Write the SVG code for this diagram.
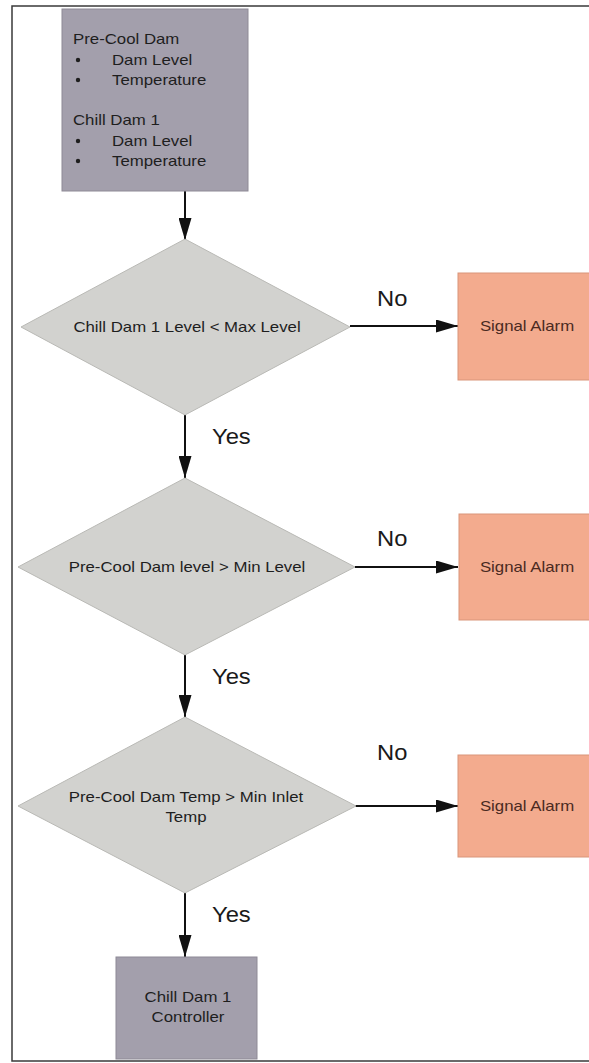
<svg xmlns="http://www.w3.org/2000/svg" width="589" height="1063" viewBox="0 0 589 1063">
  <style>
    .frame { fill: none; stroke: #3a3a3a; stroke-width: 1.5; }
    .box { fill: #a39fac; stroke: #8e8a96; stroke-width: 1; }
    .dec { fill: #d2d2cf; stroke: #b9b9b5; stroke-width: 1; }
    .alarm { fill: #f3ab8e; stroke: #d9957a; stroke-width: 1; }
    .t { font-family: "Liberation Sans", Arial, sans-serif; font-size: 14px; fill: #1e1e1e; }
    .ta { font-family: "Liberation Sans", Arial, sans-serif; font-size: 14px; fill: #4a2a22; }
    .lbl { font-family: "Liberation Sans", Arial, sans-serif; font-size: 22px; fill: #1a1a1a; }
    .mid { text-anchor: middle; }
    .wire { stroke: #111; stroke-width: 2; fill: none; marker-end: url(#head); }
  </style>
  <defs>
    <marker id="head" markerWidth="22" markerHeight="13" refX="22" refY="6.5" orient="auto" markerUnits="userSpaceOnUse">
      <path d="M0,0 L22,6.5 L0,13 Z" fill="#111"/>
    </marker>
  </defs>

  <rect width="589" height="1063" fill="#ffffff"/>

  <!-- page frame -->
  <g id="frame">
    <path class="frame" d="M589,6 H12 V1061 H589"/>
  </g>

  <!-- connectors -->
  <g id="connectors">
    <line class="wire" x1="185" y1="191" x2="185" y2="240"/>
    <line class="wire" x1="185" y1="415" x2="185" y2="478"/>
    <line class="wire" x1="185" y1="655" x2="185" y2="717"/>
    <line class="wire" x1="185" y1="893" x2="185" y2="957"/>
    <line class="wire" x1="350" y1="326" x2="458" y2="326"/>
    <line class="wire" x1="355" y1="567" x2="458" y2="567"/>
    <line class="wire" x1="355" y1="806" x2="458" y2="806"/>
    <text class="lbl" transform="translate(377,306) scale(1.08,1)">No</text>
    <text class="lbl" transform="translate(377,546) scale(1.08,1)">No</text>
    <text class="lbl" transform="translate(377,760) scale(1.08,1)">No</text>
    <text class="lbl" transform="translate(212,444) scale(1.08,1)">Yes</text>
    <text class="lbl" transform="translate(212,684) scale(1.08,1)">Yes</text>
    <text class="lbl" transform="translate(212,922) scale(1.08,1)">Yes</text>
  </g>

  <!-- inputs -->
  <g id="inputs">
    <rect class="box" x="62" y="9" width="186" height="182"/>
    <text class="t" transform="translate(73,44) scale(1.2,1)">Pre-Cool Dam</text>
    <circle cx="78" cy="60" r="2.2" fill="#1e1e1e"/>
    <text class="t" transform="translate(112,65) scale(1.2,1)">Dam Level</text>
    <circle cx="78" cy="80" r="2.2" fill="#1e1e1e"/>
    <text class="t" transform="translate(112,85) scale(1.2,1)">Temperature</text>
    <text class="t" transform="translate(73,125) scale(1.2,1)">Chill Dam 1</text>
    <circle cx="78" cy="141" r="2.2" fill="#1e1e1e"/>
    <text class="t" transform="translate(112,146) scale(1.2,1)">Dam Level</text>
    <circle cx="78" cy="161" r="2.2" fill="#1e1e1e"/>
    <text class="t" transform="translate(112,166) scale(1.2,1)">Temperature</text>
  </g>

  <!-- decisions -->
  <g id="check-chill-level">
    <polygon class="dec" points="185,239 350,327 185,415 21,327"/>
    <text class="t mid" transform="translate(187,332) scale(1.2,1)">Chill Dam 1 Level &lt; Max Level</text>
  </g>
  <g id="check-precool-level">
    <polygon class="dec" points="185,478 355,567 185,655 18,567"/>
    <text class="t mid" transform="translate(187,572) scale(1.2,1)">Pre-Cool Dam level &gt; Min Level</text>
  </g>
  <g id="check-precool-temp">
    <polygon class="dec" points="185,717 356,806 185,893 18,806"/>
    <text class="t mid" transform="translate(186,802) scale(1.2,1)">Pre-Cool Dam Temp &gt; Min Inlet</text>
    <text class="t mid" transform="translate(186,822) scale(1.2,1)">Temp</text>
  </g>

  <!-- alarms -->
  <g id="alarm-1">
    <rect class="alarm" x="458" y="273" width="132" height="107"/>
    <text class="ta mid" transform="translate(527,331) scale(1.2,1)">Signal Alarm</text>
  </g>
  <g id="alarm-2">
    <rect class="alarm" x="459" y="514" width="131" height="106"/>
    <text class="ta mid" transform="translate(527,572) scale(1.2,1)">Signal Alarm</text>
  </g>
  <g id="alarm-3">
    <rect class="alarm" x="458" y="755" width="132" height="102"/>
    <text class="ta mid" transform="translate(527,811) scale(1.2,1)">Signal Alarm</text>
  </g>

  <!-- controller -->
  <g id="controller">
    <rect class="box" x="116" y="957" width="141" height="102"/>
    <text class="t mid" transform="translate(188,1002) scale(1.2,1)">Chill Dam 1</text>
    <text class="t mid" transform="translate(188,1022) scale(1.2,1)">Controller</text>
  </g>
</svg>
